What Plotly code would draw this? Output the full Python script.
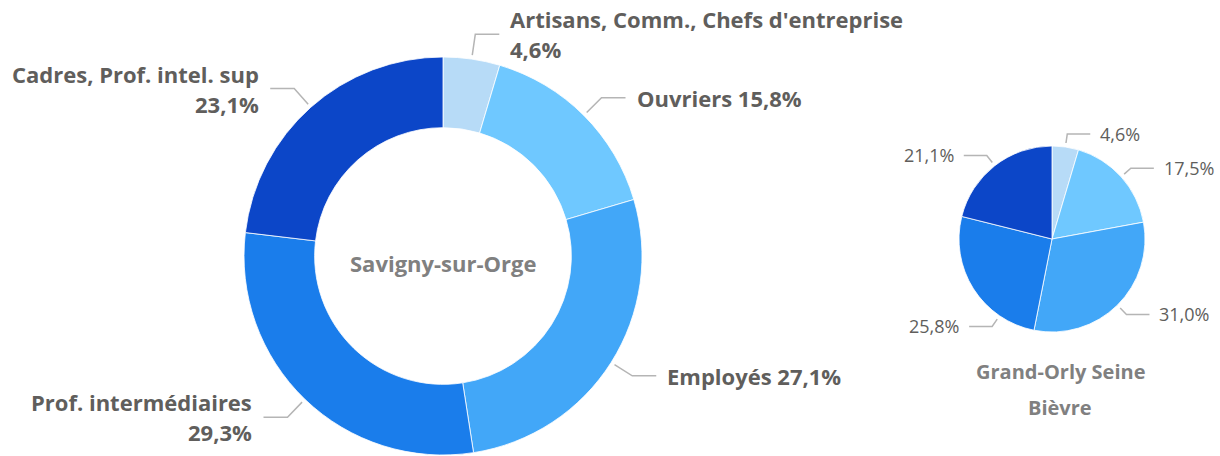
import math
import plotly.graph_objects as go

W, H = 1220, 456

# Catégories socio-professionnelles (ordre horaire depuis midi)
categories = [
    "Artisans, Comm., Chefs d'entreprise",
    "Ouvriers",
    "Employés",
    "Prof. intermédiaires",
    "Cadres, Prof. intel. sup",
]
savigny_values = [4.6, 15.8, 27.1, 29.3, 23.1]
grand_orly_values = [4.6, 17.5, 31.0, 25.8, 21.1]
savigny_name = "Savigny-sur-Orge"
grand_orly_name = ["Grand-Orly Seine", "Bièvre"]

colors = ["#b7dbf7", "#6fc8ff", "#42a7f8", "#1a7deb", "#0c46c8"]

LABEL_COLOR = "#605e5c"
LEADER_COLOR = "#b5b5b5"
FONT = "Open Sans"

# Donut and pie geometry (pixels)
donut = dict(cx=443, cy=256, r=199, r1=203, r2=224, run=24, gap=9, lh=30)
pie = dict(cx=1052, cy=239, r=93, r1=97, r2=106, run=23, gap=8, lh=24)
# where along each slice the leader line attaches (0.5 = middle)
donut_anchor = [0.5, 0.5, 0.5, 0.5, 0.5]
pie_anchor = [0.5, 0.5, 0.5, 0.25, 0.5]


def fmt(v):
    return f"{v:.1f}".replace(".", ",") + "%"


def px_to_paper(x, y):
    return x / W, 1 - y / H


def domain(g):
    x0, y0 = px_to_paper(g["cx"] - g["r"], g["cy"] + g["r"])
    x1, y1 = px_to_paper(g["cx"] + g["r"], g["cy"] - g["r"])
    return dict(x=[x0, x1], y=[y0, y1])


def leaders(values, g, anchors, texts, font):
    """Leader lines (radial stub + horizontal run) and their label lines."""
    shapes, annos = [], []
    total = sum(values)
    start = 0.0
    for v, a, lines in zip(values, anchors, texts):
        theta = math.radians(360 * (start + a * v) / total)
        start += v
        s, c = math.sin(theta), math.cos(theta)
        xa, ya = g["cx"] + g["r1"] * s, g["cy"] - g["r1"] * c
        xe, ye = g["cx"] + g["r2"] * s, g["cy"] - g["r2"] * c
        side = 1 if s >= 0 else -1
        xh = xe + side * g["run"]
        pts = [px_to_paper(xa, ya), px_to_paper(xe, ye), px_to_paper(xh, ye)]
        path = "M {} {} L {} {} L {} {}".format(*[k for p in pts for k in p])
        shapes.append(dict(type="path", xref="paper", yref="paper", path=path,
                           line=dict(color=LEADER_COLOR, width=1.5)))
        n = len(lines)
        for i, line in enumerate(lines):
            ly = ye + (i - (n - 1) / 2) * g["lh"]
            tx, ty = px_to_paper(xh + side * g["gap"], ly)
            annos.append(dict(xref="paper", yref="paper", x=tx, y=ty, text=line,
                              showarrow=False,
                              xanchor="left" if side > 0 else "right",
                              yanchor="middle", font=font))
    return shapes, annos


fig = go.Figure()
fig.add_trace(go.Pie(
    labels=categories, values=savigny_values, hole=0.645, sort=False,
    direction="clockwise", rotation=0, textinfo="none", hoverinfo="label+percent",
    marker=dict(colors=colors, line=dict(color="white", width=0.8)),
    domain=domain(donut), showlegend=False,
))
fig.add_trace(go.Pie(
    labels=categories, values=grand_orly_values, sort=False,
    direction="clockwise", rotation=0, textinfo="none", hoverinfo="label+percent",
    marker=dict(colors=colors, line=dict(color="white", width=0.8)),
    domain=domain(pie), showlegend=False,
))

donut_texts = [
    [categories[0], fmt(savigny_values[0])],
    [f"{categories[1]} {fmt(savigny_values[1])}"],
    [f"{categories[2]} {fmt(savigny_values[2])}"],
    [categories[3], fmt(savigny_values[3])],
    [categories[4], fmt(savigny_values[4])],
]
pie_texts = [[fmt(v)] for v in grand_orly_values]

s1, a1 = leaders(savigny_values, donut, donut_anchor, donut_texts,
                 dict(family=FONT, size=22, color=LABEL_COLOR, weight="bold"))
s2, a2 = leaders(grand_orly_values, pie, pie_anchor, pie_texts,
                 dict(family=FONT, size=18, color=LABEL_COLOR))

cx, cy = px_to_paper(donut["cx"], donut["cy"] + 7)
center = dict(xref="paper", yref="paper", x=cx, y=cy, text=savigny_name,
              showarrow=False, xanchor="center", yanchor="middle",
              font=dict(family=FONT, size=22, color="#808080", weight="bold"))

# Pie title, two lines with generous spacing
title_annos = []
for i, line in enumerate(grand_orly_name):
    tx, ty = px_to_paper(pie["cx"] + 8, 371 + 36 * i)
    title_annos.append(dict(xref="paper", yref="paper", x=tx, y=ty, text=line,
                            showarrow=False, xanchor="center", yanchor="middle",
                            font=dict(family=FONT, size=20, color="#808080",
                                      weight="bold")))

fig.update_layout(
    width=W, height=H,
    margin=dict(l=0, r=0, t=0, b=0),
    paper_bgcolor="white", plot_bgcolor="white",
    shapes=s1 + s2,
    annotations=a1 + a2 + [center] + title_annos,
)

fig.write_html("out.html")
